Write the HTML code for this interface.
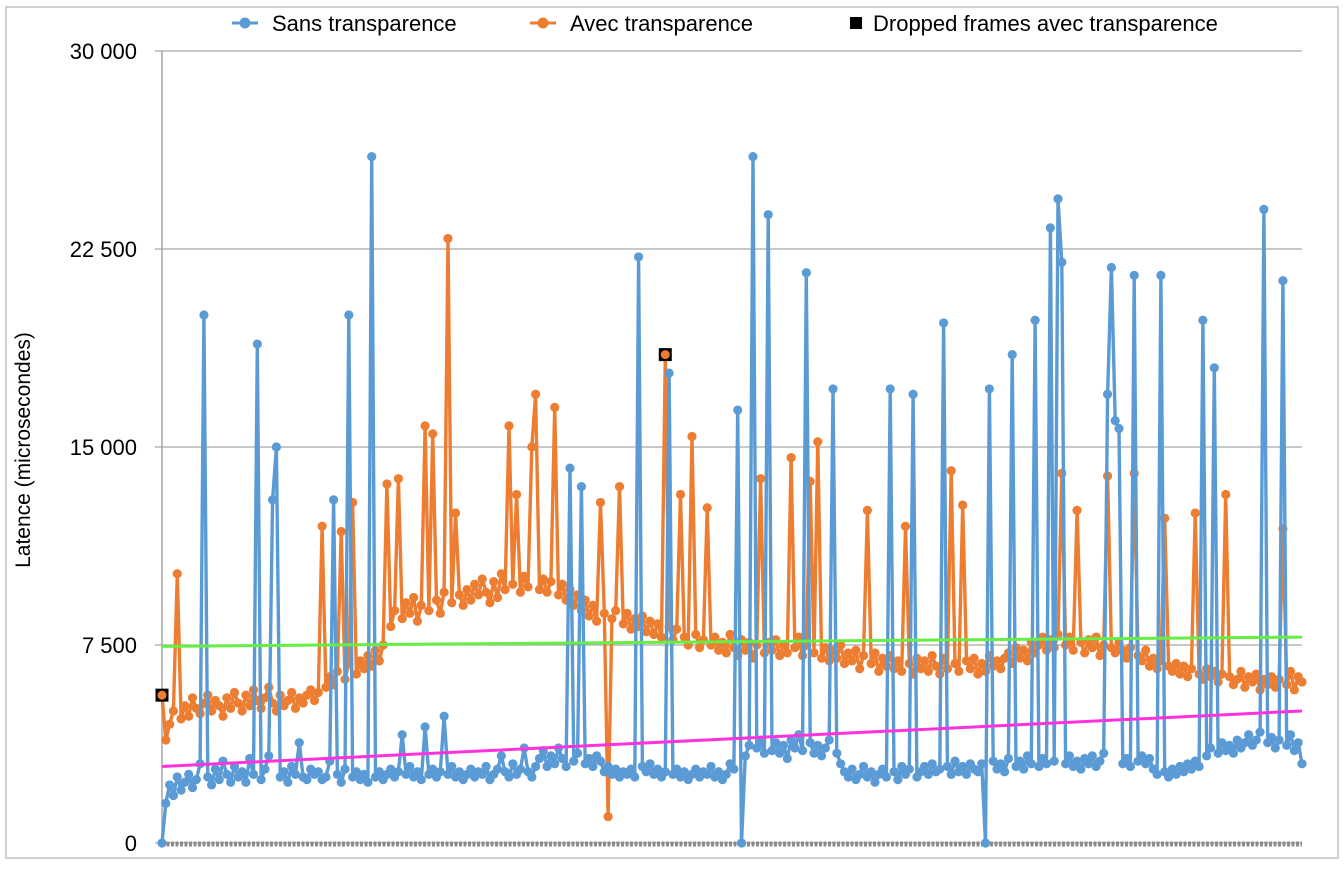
<!DOCTYPE html>
<html><head><meta charset="utf-8"><style>
body{margin:0;background:#fff;}
svg{display:block;font-family:"Liberation Sans",sans-serif;}
</style></head><body>
<svg id="chart" width="1344" height="880">
<rect x="6" y="7" width="1332" height="851" fill="none" stroke="#bfbfbf" stroke-width="1.5"/>
<g id="grid"></g>
<g id="yticks"></g>
<text x="30" y="450" transform="rotate(-90 30 450)" text-anchor="middle" font-size="21" fill="#000">Latence (microsecondes)</text>
<g id="series"></g>
<g>
<g><line x1="232" y1="23" x2="258" y2="23" stroke="#5b9bd5" stroke-width="3"/><circle cx="245" cy="23" r="5.5" fill="#5b9bd5"/><text x="272" y="31" font-size="22">Sans transparence</text></g>
<g><line x1="530" y1="23" x2="556" y2="23" stroke="#ed7d31" stroke-width="3"/><circle cx="543" cy="23" r="5.5" fill="#ed7d31"/><text x="570" y="31" font-size="22">Avec transparence</text></g>
<g><rect x="850" y="17" width="12" height="12" fill="#000"/><text x="873" y="31" font-size="22">Dropped frames avec transparence</text></g>
</g>
</svg>
<script>
const yTicks=[0,7500,15000,22500,30000];
const yTickLabels=["0","7 500","15 000","22 500","30 000"];
const sans=[0,1500,2200,1800,2500,2000,2300,2600,2100,2400,3000,20000,2500,2200,2800,2400,3100,2600,2300,2900,
2500,2700,2300,3200,2600,18900,2400,2800,3300,13000,15000,2500,2700,2300,2900,2600,3800,2500,2400,2800,
2600,2700,2400,2500,3100,13000,2600,2300,2800,20000,2500,2700,2400,2600,2300,26000,2500,2700,2400,2600,
2800,2500,2700,4100,2600,2900,2500,2700,2400,4400,2600,2800,2500,2700,4800,2600,2900,2500,2700,2400,
2600,2800,2500,2700,2600,2900,2400,2600,2800,3300,2700,2500,3000,2600,2800,3600,2700,2500,2900,3200,
3500,2900,3300,3000,3600,3200,2900,14200,3100,3400,13500,3000,3200,2900,3300,3100,2700,2900,2600,2800,
2500,2700,2600,2800,2500,22200,2900,2700,3000,2600,2800,2500,2700,17800,2600,2800,2500,2700,2400,2600,
2800,2500,2700,2600,2900,2500,2700,2400,2600,3000,2800,16400,0,3300,3700,26000,3600,3900,3400,23800,
3500,3800,3400,3700,3200,3900,3600,4100,3500,21600,3800,3400,3700,3300,3600,3900,17200,3400,3000,2700,
2500,2800,2400,2600,2900,2500,2700,2300,2600,2800,2500,17200,2700,2400,2900,2600,2800,17000,2500,2700,
2900,2600,3000,2700,2800,19700,2900,2600,3100,2700,2900,2600,3000,2800,2700,3000,0,17200,3100,2800,
3000,2700,3200,18500,2900,3100,2800,3300,3000,19800,2900,3200,3000,23300,3100,24400,22000,3000,3300,2900,
3100,2800,3200,3000,3300,2900,3100,3400,17000,21800,16000,15700,3000,3200,2900,21500,3100,3300,3000,3200,
2800,2600,21500,2700,2500,2800,2600,2900,2700,3000,2800,3100,2900,19800,3300,3600,18000,3400,3800,3500,
3700,3400,3900,3600,3800,4100,3700,3900,4200,24000,3800,4000,3600,3900,21300,3700,4100,3500,3800,3000];
const avec=[5600,3900,4500,5000,10200,4700,5200,4800,5500,5100,4900,5300,5600,5000,5400,5200,4800,5500,5100,5700,
5300,5000,5600,5200,5800,5400,5100,5500,5900,5300,5000,5600,5200,5400,5700,5100,5500,5300,5600,5800,
5400,5700,12000,5900,6300,6000,6500,11800,6200,6800,12900,6400,6900,6600,7100,6700,7300,6900,7500,13600,
8200,8800,13800,8500,9100,8700,9300,8400,9000,15800,8800,15500,9200,8700,9500,22900,9100,12500,9400,9000,
9600,9200,9800,9400,10000,9500,9100,9900,9300,10200,9600,15800,9800,13200,9500,10100,9700,15000,17000,9600,
10000,9500,9900,16500,9400,9800,9200,9600,9000,9400,8800,9200,8600,9000,8400,12900,8700,1000,8500,8800,
13500,8300,8700,8100,8500,8200,8600,8000,8400,7900,8300,7800,18500,8200,7700,8100,13200,7800,7500,15400,
7900,7400,7700,12700,7500,7800,7300,7600,7200,7900,7400,7100,7700,7300,7600,7000,7500,13800,7200,7600,
7300,7700,7100,7500,7200,14600,7400,7800,7100,7500,13700,7200,15200,7000,7400,6900,7300,7000,7500,6800,
7200,6900,7300,6600,7100,12600,6800,7200,6500,7000,6700,7100,6600,6900,6500,12000,6800,6400,7000,6600,
6900,6500,7100,6700,6400,7000,6600,14100,6800,6500,12800,6900,6600,7000,6400,6800,6500,7100,6700,6900,
6600,7000,7200,6800,7400,7000,7300,6900,7600,7200,7500,7800,7300,7700,7400,7900,14000,7500,7800,7300,
12600,7600,7200,7700,7400,7800,7100,7500,13900,7400,7200,7600,7300,7000,7400,14000,7100,6900,7300,6700,
7000,6600,6900,12300,6700,6500,6800,6400,6700,6300,6600,12500,6400,6200,6600,6300,6500,6100,6400,13200,
6300,6000,6200,6500,5900,6300,6100,6400,5800,6200,6000,6300,5900,6200,11900,6000,6500,5800,6300,6100];
const droppedIdx=[0,132];
const trendAvec=[7450,7800];
const trendSans=[2900,5000];

const NS="http://www.w3.org/2000/svg";
const X0=162,X1=1302,Y0=843,Y1=51,YMAX=30000;
const n=sans.length;
function xs(i){return X0+i*(X1-X0)/(n-1);}
function ys(v){return Y0-(v/YMAX)*(Y0-Y1);}
function mk(tag,attrs,parent){const e=document.createElementNS(NS,tag);for(const k in attrs)e.setAttribute(k,attrs[k]);parent.appendChild(e);return e;}
const grid=document.getElementById('grid'),yt=document.getElementById('yticks'),ser=document.getElementById('series');
yTicks.forEach((t,k)=>{
  const l=mk('line',{x1:155,x2:X1,y1:ys(t),y2:ys(t),stroke:'#a6a6a6','stroke-width':1.2},grid);
  
  
  const tx=mk('text',{x:137,y:ys(t)+8,'text-anchor':'end','font-size':22},yt);
  tx.textContent=yTickLabels[k];
  
  
});
const ax=mk('line',{x1:X0,x2:X0,y1:Y1,y2:Y0,stroke:'#a6a6a6','stroke-width':1.5},grid);


const xa=mk('line',{x1:X0,x2:X1,y1:Y0+1,y2:Y0+1,stroke:'#8c8c8c','stroke-width':5,'stroke-dasharray':'3 1.5'},grid);


function drawSeries(arr,color,name){
  const g=mk('g',{},ser);
  
  
  const pts=arr.map((v,i)=>xs(i).toFixed(1)+','+ys(v).toFixed(1)).join(' ');
  const pl=mk('polyline',{points:pts,fill:'none',stroke:color,'stroke-width':3.4,'stroke-linejoin':'round'},g);
  
  
  arr.forEach((v,i)=>{
    const c=mk('circle',{cx:xs(i),cy:ys(v),r:4.6,fill:color},g);
    
    
  });
}
drawSeries(avec,'#ed7d31','avec-series');
drawSeries(sans,'#5b9bd5','sans-series');
droppedIdx.forEach(i=>{
  const r=mk('rect',{x:xs(i)-6.5,y:ys(avec[i])-6.5,width:13,height:13,fill:'#000'},ser);
  
  
  const c=mk('circle',{cx:xs(i),cy:ys(avec[i]),r:4.5,fill:'#ed7d31'},ser);
  
  
});
const tg=mk('line',{x1:X0,x2:X1,y1:ys(trendAvec[0]),y2:ys(trendAvec[1]),stroke:'#66ee44','stroke-width':3},ser);


const tp=mk('line',{x1:X0,x2:X1,y1:ys(trendSans[0]),y2:ys(trendSans[1]),stroke:'#ff33dd','stroke-width':3},ser);


</script>
</body></html>
